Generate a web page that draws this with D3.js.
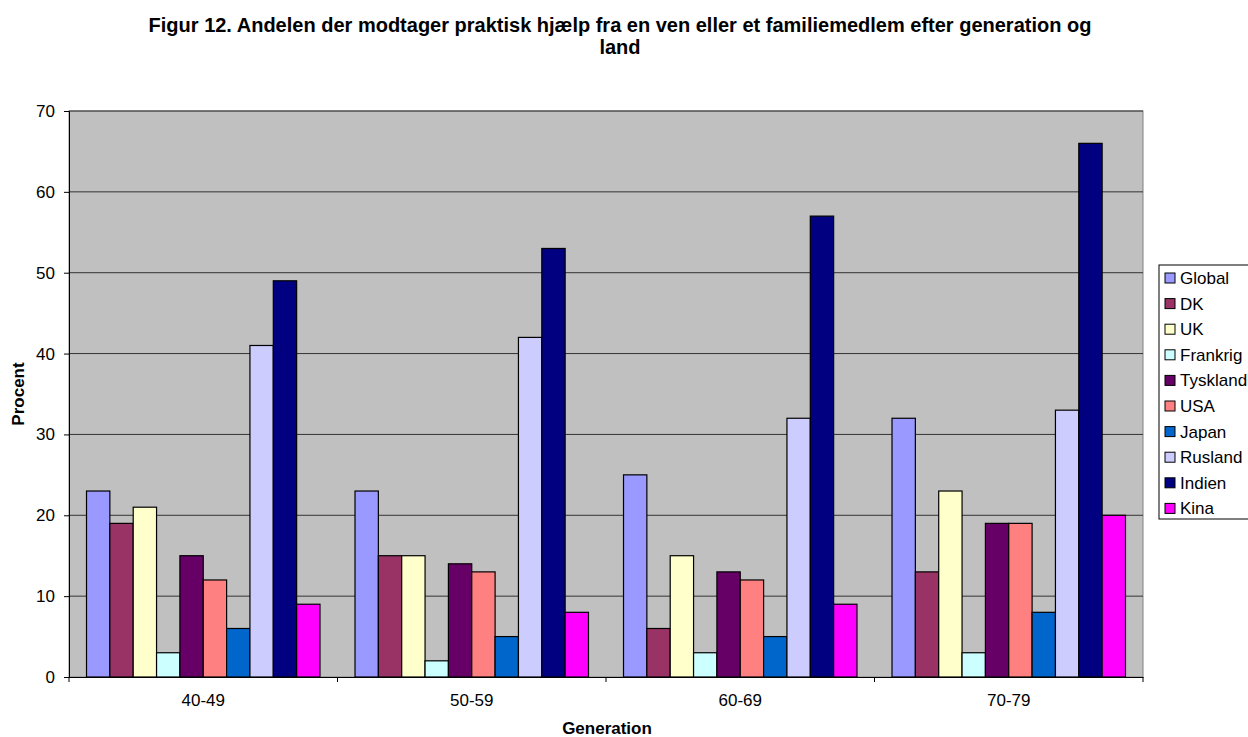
<!DOCTYPE html>
<html>
<head>
<meta charset="utf-8">
<script src="https://cdn.jsdelivr.net/npm/d3@7"></script>
<style>
  body { margin: 0; background: #fff; }
  svg { font-family: "Liberation Sans", Arial, sans-serif; }
</style>
</head>
<body>
<svg id="chart" width="1248" height="737"></svg>
<script>
const generations = ['40-49', '50-59', '60-69', '70-79']
const countries = ['Global', 'DK', 'UK', 'Frankrig', 'Tyskland', 'USA', 'Japan', 'Rusland', 'Indien', 'Kina']
const colors = ['#9999FF', '#993366', '#FFFFCC', '#CCFFFF', '#660066', '#FF8080', '#0066CC', '#CCCCFF', '#000080', '#FF00FF']

// one array per generation, in country order
const v4049 = [23, 19, 21, 3, 15, 12, 6, 41, 49, 9]
const v5059 = [23, 15, 15, 2, 14, 13, 5, 42, 53, 8]
const v6069 = [25, 6, 15, 3, 13, 12, 5, 32, 57, 9]
const v7079 = [32, 13, 23, 3, 19, 19, 8, 33, 66, 20]
const values = [v4049, v5059, v6069, v7079]
const yTicks = [0, 10, 20, 30, 40, 50, 60, 70]

const svg = d3.select('#chart')
const font = '"Liberation Sans", Arial, sans-serif'
const plotLeft = 69, plotRight = 1143, plotTop = 111, plotBottom = 677

const x0 = d3.scaleBand().domain(generations).range([plotLeft, plotRight])
const x1 = d3.scaleBand().domain(countries)
    .range([0, x0.bandwidth()])
    .paddingOuter(0.75)
const y = d3.scaleLinear().domain([0, 70]).range([plotBottom, plotTop])

// plot background
svg.append('rect')
    .attr('x', plotLeft).attr('y', plotTop)
    .attr('width', plotRight - plotLeft).attr('height', plotBottom - plotTop)
    .attr('fill', '#C0C0C0')
    .attr('stroke', '#808080')

// gridlines
svg.append('g')
    .selectAll('line')
    .data(yTicks.filter(t => t > 0))
    .enter()
    .append('line')
    .attr('x1', plotLeft).attr('x2', plotRight)
    .attr('y1', d => y(d)).attr('y2', d => y(d))
    .attr('stroke', '#333')
    .attr('stroke-width', 1)

// bars
const groups = svg.append('g')
    .selectAll('g')
    .data(values)
    .enter()
    .append('g')
    .attr('transform', (_, i) => `translate(${x0(generations[i])},0)`)

groups.selectAll('rect')
    .data(d => d.map((v, i) => ({ country: countries[i], value: v, color: colors[i] })))
    .enter()
    .append('rect')
    .attr('x', d => x1(d.country))
    .attr('y', d => y(d.value))
    .attr('width', x1.bandwidth())
    .attr('height', d => plotBottom - y(d.value))
    .attr('fill', d => d.color)
    .attr('stroke', '#000')
    .attr('stroke-width', 1.2)

// y axis
const yAxis = svg.append('g')
    .attr('transform', `translate(${plotLeft},0)`)
    .call(d3.axisLeft(y).tickValues(yTicks).tickSize(5).tickPadding(9))
yAxis.select('.domain').attr('stroke', '#000')
yAxis.selectAll('line').attr('stroke', '#000')
yAxis.selectAll('text').attr('font-size', 17).attr('fill', '#000')
    .attr('font-family', font)

// x axis
const xAxis = svg.append('g')
    .attr('transform', `translate(0,${plotBottom})`)
    .call(d3.axisBottom(x0).tickSize(0).tickPadding(17))
xAxis.select('.domain').attr('stroke', '#000')
xAxis.selectAll('text').attr('font-size', 17).attr('fill', '#000')
    .attr('font-family', font)

// category separator ticks
svg.append('g')
    .selectAll('line')
    .data(generations.concat(['end']))
    .enter()
    .append('line')
    .attr('x1', d => d === 'end' ? plotRight : x0(d))
    .attr('x2', d => d === 'end' ? plotRight : x0(d))
    .attr('y1', plotBottom).attr('y2', plotBottom + 5)
    .attr('stroke', '#000')

// title
svg.append('text')
    .attr('x', 620).attr('y', 32)
    .attr('text-anchor', 'middle')
    .attr('font-size', 20).attr('font-weight', 'bold')
    .text('Figur 12. Andelen der modtager praktisk hjælp fra en ven eller et familiemedlem efter generation og')
svg.append('text')
    .attr('x', 620).attr('y', 54)
    .attr('text-anchor', 'middle')
    .attr('font-size', 20).attr('font-weight', 'bold')
    .text('land')

// axis titles
svg.append('text')
    .attr('transform', 'translate(24,394) rotate(-90)')
    .attr('text-anchor', 'middle')
    .attr('font-size', 17).attr('font-weight', 'bold')
    .text('Procent')
svg.append('text')
    .attr('x', 607).attr('y', 734)
    .attr('text-anchor', 'middle')
    .attr('font-size', 17).attr('font-weight', 'bold')
    .text('Generation')

// legend
svg.append('rect')
    .attr('x', 1159).attr('y', 265)
    .attr('width', 100).attr('height', 254)
    .attr('fill', '#fff').attr('stroke', '#000')
const legend = svg.append('g')
const items = legend.selectAll('g')
    .data(countries)
    .enter()
    .append('g')
    .attr('transform', (_, i) => `translate(1165,${278 + i * 25.6})`)
items.append('rect')
    .attr('y', -5)
    .attr('width', 10).attr('height', 10)
    .attr('fill', (_, i) => colors[i])
    .attr('stroke', '#000')
items.append('text')
    .attr('x', 15).attr('y', 6)
    .attr('font-size', 17)
    .text(d => d)
</script>
</body>
</html>
